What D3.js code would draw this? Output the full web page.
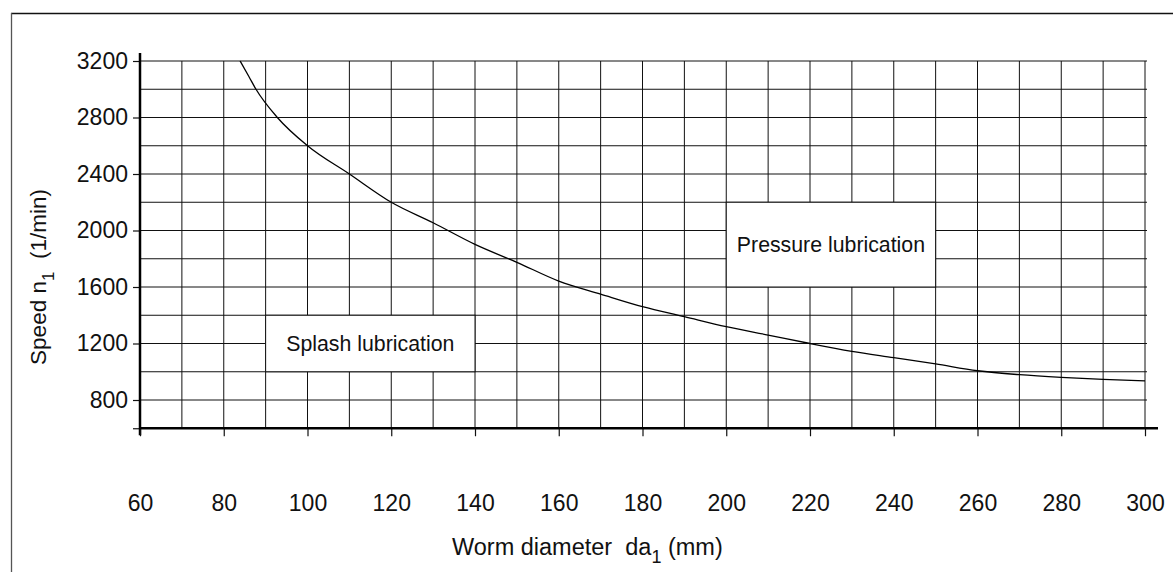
<!DOCTYPE html>
<html>
<head>
<meta charset="utf-8">
<script src="https://cdn.jsdelivr.net/npm/d3@7"></script>
<style>
  body { margin: 0; background: #fff; }
  svg { font-family: 'Liberation Sans', Arial, Helvetica, sans-serif; }
</style>
</head>
<body>
<div id="chart"></div>
<script>
// worm diameter (mm) vs speed limit (1/min)
let diameter = [83.9, 86, 87.7, 92.8, 100, 110, 120, 130, 140, 150, 160, 170, 180, 190, 200, 210, 220, 230, 240, 250, 260, 270, 280, 290, 300]
let speed = [3200, 3090, 3000, 2800, 2600, 2400, 2200, 2055, 1902, 1775, 1642, 1550, 1461, 1390, 1319, 1260, 1200, 1145, 1100, 1055, 1007, 979, 960, 946, 936]

let xTicks = [60, 80, 100, 120, 140, 160, 180, 200, 220, 240, 260, 280, 300]
let yTicks = [600, 800, 1200, 1600, 2000, 2400, 2800, 3200]
let xGrid = d3.range(70, 301, 10)
let yGrid = d3.range(800, 3201, 200)

let regions = [
  { label: 'Splash lubrication', x0: 90, x1: 140, y0: 1000, y1: 1400 },
  { label: 'Pressure lubrication', x0: 200, x1: 250, y0: 1600, y1: 2200 }
]

let width = 1173
let height = 572

let svg = d3
  .select('#chart')
  .append('svg')
  .attr('width', width)
  .attr('height', height)

let x = d3.scaleLinear().domain([60, 300]).range([140, 1145])
let y = d3.scaleLinear().domain([600, 3200]).range([428.25, 61])

// outer frame (only top and left edges show in the picture)
svg.append('line')
  .attr('x1', 11).attr('x2', width).attr('y1', 13.5).attr('y2', 13.5)
  .attr('stroke', '#111').attr('stroke-width', 1.3)
svg.append('line')
  .attr('x1', 11.5).attr('x2', 11.5).attr('y1', 13).attr('y2', height)
  .attr('stroke', '#555').attr('stroke-width', 1.3)

// grid
let grid = svg.append('g').attr('stroke', '#111').attr('stroke-width', 1)
grid.selectAll('.vgrid')
  .data(xGrid)
  .enter()
  .append('line')
  .attr('class', 'vgrid')
  .attr('x1', d => x(d)).attr('x2', d => x(d))
  .attr('y1', y(3200)).attr('y2', y(600))
grid.selectAll('.hgrid')
  .data(yGrid)
  .enter()
  .append('line')
  .attr('class', 'hgrid')
  .attr('x1', x(60)).attr('x2', x(300) + 2)
  .attr('y1', d => y(d)).attr('y2', d => y(d))

// white label boxes punched into the grid
let boxes = svg.selectAll('.region')
  .data(regions)
  .enter()
  .append('g')
  .attr('class', 'region')
boxes.append('rect')
  .attr('x', d => x(d.x0))
  .attr('y', d => y(d.y1))
  .attr('width', d => x(d.x1) - x(d.x0))
  .attr('height', d => y(d.y0) - y(d.y1))
  .attr('fill', '#fff')
  .attr('stroke', '#111')
  .attr('stroke-width', 1)
boxes.append('text')
  .text(d => d.label)
  .attr('x', d => (x(d.x0) + x(d.x1)) / 2)
  .attr('y', d => (y(d.y0) + y(d.y1)) / 2)
  .attr('dy', '0.36em')
  .attr('text-anchor', 'middle')
  .attr('font-size', 21.3)
  .attr('fill', '#111')

// curve
let line = d3.line()
  .x((d, i) => x(d))
  .y((d, i) => y(speed[i]))
  .curve(d3.curveMonotoneX)

svg.append('path')
  .attr('d', line(diameter))
  .attr('fill', 'none')
  .attr('stroke', '#000')
  .attr('stroke-width', 1.3)

// y axis
let yAxis = d3.axisLeft(y)
  .tickValues(yTicks)
  .tickFormat(d => (d === 600 ? '' : d))
  .tickSize(7)
  .tickSizeOuter(0)
  .tickPadding(5)

let yg = svg.append('g')
  .attr('transform', `translate(${x(60)},0)`)
  .call(yAxis)
yg.select('.domain').remove()
yg.selectAll('.tick line').attr('stroke', '#111').attr('stroke-width', 1.2)
yg.selectAll('.tick text').attr('font-size', 23).attr('fill', '#111').attr('font-family', null)
yg.append('line')
  .attr('x1', 0).attr('x2', 0)
  .attr('y1', y(3200) - 8).attr('y2', y(600) + 7)
  .attr('stroke', '#000').attr('stroke-width', 2.5)

// x axis
let xAxis = d3.axisBottom(x)
  .tickValues(xTicks)
  .tickSize(8)
  .tickSizeOuter(0)

let xg = svg.append('g')
  .attr('transform', `translate(0,${y(600)})`)
  .call(xAxis)
xg.select('.domain').remove()
xg.selectAll('.tick line').attr('stroke', '#111').attr('stroke-width', 1.2)
xg.selectAll('.tick text')
  .attr('y', 66)
  .attr('font-size', 23)
  .attr('fill', '#111')
  .attr('font-family', null)
xg.append('line')
  .attr('x1', x(60)).attr('x2', x(300) + 13)
  .attr('y1', 0).attr('y2', 0)
  .attr('stroke', '#000').attr('stroke-width', 2.5)

// axis titles
let xTitle = svg.append('text')
  .attr('x', 452)
  .attr('y', 555)
  .attr('font-size', 23.5)
  .attr('fill', '#111')
xTitle.append('tspan').text('Worm diameter\u00a0\u00a0da')
xTitle.append('tspan').text('1').attr('dy', 8).attr('font-size', 18)
xTitle.append('tspan').text(' (mm)').attr('dy', -8)

let yTitle = svg.append('text')
  .attr('transform', 'translate(46,277) rotate(-90)')
  .attr('text-anchor', 'middle')
  .attr('font-size', 22.5)
  .attr('fill', '#111')
yTitle.append('tspan').text('Speed n')
yTitle.append('tspan').text('1').attr('dy', 8).attr('font-size', 17)
yTitle.append('tspan').text('\u00a0\u00a0(1/min)').attr('dy', -8)
</script>
</body>
</html>
